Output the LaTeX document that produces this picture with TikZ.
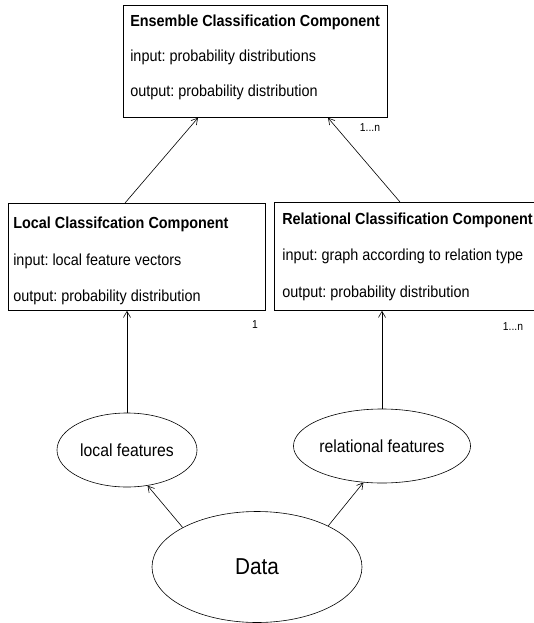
\documentclass[tikz,border=0pt]{standalone}
\usepackage{fontspec}
\setmainfont{Liberation Sans}[FakeStretch=0.9]
\frenchspacing
\usetikzlibrary{shapes.geometric,arrows.meta}
\begin{document}
\begin{tikzpicture}[x=1pt, y=-1pt, line width=0.6pt,
  comp/.style={draw, rectangle, inner sep=0pt, anchor=north west, line width=0.8pt},
  feat/.style={draw, ellipse, inner sep=0pt, font=\fontsize{17.5}{19}\selectfont},
  txtline/.style={anchor=base west, inner sep=0pt, font=\fontsize{16}{18}\selectfont},
  txttitle/.style={txtline, font=\fontsize{16}{18}\selectfont\bfseries},
  card/.style={inner sep=0pt, font=\fontsize{11.5}{13}\selectfont},
  arr/.style={-{Straight Barb[length=6pt,width=7pt]}}]
  \useasboundingbox (0,0) rectangle (533,623);
  % Ensemble-Komponente oben
  \node[comp, minimum width=264pt, minimum height=112pt] (ens) at (123,5) {};
  \node[txttitle] (ens-title) at (130,27) {Ensemble Classification Component};
  \node[txtline] (ens-in) at (130,62) {input: probability distributions};
  \node[txtline] (ens-out) at (130,97) {output: probability distribution};
  \node[card] (ens-card) at (370,128) {1...n};
  % lokale Komponente
  \node[comp, minimum width=257pt, minimum height=107pt] (local) at (8,203) {};
  \node[txttitle] (local-title) at (13,228) {Local Classifcation Component};
  \node[txtline] (local-in) at (13,265) {input: local feature vectors};
  \node[txtline] (local-out) at (13,301) {output: probability distribution};
  \node[card] (local-card) at (255,325) {1};
  % relationale Komponente (rechts abgeschnitten)
  \node[comp, minimum width=260pt, minimum height=108pt] (rel) at (274,202) {};
  \node[txttitle] (rel-title) at (282,224) {Relational Classification Component};
  \node[txtline] (rel-in) at (282,260) {input: graph according to relation type};
  \node[txtline] (rel-out) at (282,297) {output: probability distribution};
  \node[card] (rel-card) at (513,327) {1...n};
  % Merkmale und Daten
  \node[feat, minimum width=140pt, minimum height=74pt] (lfeat) at (127,450) {local features};
  \node[feat, minimum width=140pt, minimum height=74pt] (rfeat) at (382,446) {relational features};
  \node[feat, minimum width=210pt, minimum height=111pt, font=\fontsize{23}{25}\selectfont] (data) at (257,567) {Data};
  % Pfeile
  \draw[arr] ([xshift=117pt]local.north west) -- ([xshift=75pt]ens.south west);
  \draw[arr] ([xshift=126pt]rel.north west) -- ([xshift=205pt]ens.south west);
  \draw[arr] (lfeat.north) -- (lfeat.north |- local.south);
  \draw[arr] (rfeat.north) -- (rfeat.north |- rel.south);
  \draw[arr] (data.152) -- (lfeat.-60);
  \draw[arr] (data.30) -- (rfeat.-117);
\end{tikzpicture}
\end{document}
